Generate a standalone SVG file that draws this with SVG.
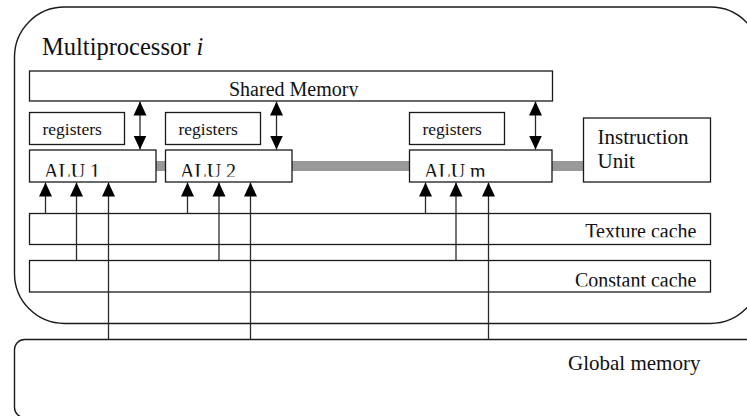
<svg xmlns="http://www.w3.org/2000/svg" width="747" height="416" viewBox="0 0 747 416">
  <style>
    .box { fill: none; stroke: #1a1a1a; stroke-width: 1.3; }
    .frame { fill: none; stroke: #1a1a1a; stroke-width: 1.4; }
    .lbl { font-family: "Liberation Serif", "Times New Roman", serif; fill: #111; }
    .big { font-size: 20px; }
    .reg { font-size: 17.5px; }
    .wire { stroke: #2a2a2a; stroke-width: 1.3; fill: none; }
    .bus { stroke: #999999; stroke-width: 10; fill: none; }
  </style>
  <defs>
    <marker id="head" markerUnits="userSpaceOnUse" markerWidth="14" markerHeight="14" viewBox="0 0 14 14" refX="14" refY="7" orient="auto-start-reverse">
      <path d="M0,0.5 L14,7 L0,13.5 Z" fill="#000"/>
    </marker>
    <clipPath id="clipShared"><rect x="29" y="71" width="523" height="25.5"/></clipPath>
    <clipPath id="clipAlu"><rect x="0" y="150" width="747" height="26.8"/></clipPath>
    <clipPath id="clipTex"><rect x="29" y="213" width="682" height="24.2"/></clipPath>
    <clipPath id="clipConst"><rect x="29" y="260" width="682" height="26.5"/></clipPath>
  </defs>

  <!-- multiprocessor frame -->
  <g id="multiprocessor">
    <rect class="frame" x="14.5" y="7" width="746" height="316.5" rx="50" ry="50"/>
    <text class="lbl" x="42" y="55" font-size="24.5">Multiprocessor <tspan font-style="italic">i</tspan></text>
  </g>

  <!-- global memory -->
  <g id="global-memory">
    <rect class="frame" x="14.5" y="339.5" width="760" height="78" rx="10" ry="10"/>
    <text class="lbl" x="568" y="370" font-size="21">Global memory</text>
  </g>

  <g id="shared-memory">
    <rect class="box" x="29.5" y="71" width="523" height="30"/>
    <text class="lbl big" x="229" y="96" clip-path="url(#clipShared)">Shared Memory</text>
  </g>

  <g id="registers-1">
    <rect class="box" x="29.5" y="112.5" width="95" height="32"/>
    <text class="lbl reg" x="42.5" y="135">registers</text>
  </g>
  <g id="registers-2">
    <rect class="box" x="165.5" y="112.5" width="95" height="32"/>
    <text class="lbl reg" x="178.5" y="135">registers</text>
  </g>
  <g id="registers-m">
    <rect class="box" x="409.5" y="112.5" width="95" height="32"/>
    <text class="lbl reg" x="422.5" y="135">registers</text>
  </g>

  <!-- ALU bus to the instruction unit, drawn beneath the ALU boxes -->
  <g id="bus">
    <line class="bus" x1="156" y1="166" x2="166" y2="166"/>
    <line class="bus" x1="292" y1="166" x2="409" y2="166"/>
    <line class="bus" x1="552" y1="166" x2="583" y2="166"/>
  </g>

  <g id="alu-1">
    <rect class="box" x="29.5" y="150" width="126.5" height="32" fill="#fff"/>
    <text class="lbl big" x="44" y="178" clip-path="url(#clipAlu)">ALU 1</text>
  </g>
  <g id="alu-2">
    <rect class="box" x="165.5" y="150" width="126.5" height="32" fill="#fff"/>
    <text class="lbl big" x="180" y="178" clip-path="url(#clipAlu)">ALU 2</text>
  </g>
  <g id="alu-m">
    <rect class="box" x="409.5" y="150" width="142.5" height="32" fill="#fff"/>
    <text class="lbl big" x="424" y="178" clip-path="url(#clipAlu)">ALU m</text>
  </g>

  <g id="instruction-unit">
    <rect class="box" x="583.5" y="118" width="127" height="64" fill="#fff"/>
    <text class="lbl" x="597.5" y="144" font-size="21">Instruction</text>
    <text class="lbl" x="597.5" y="168" font-size="21">Unit</text>
  </g>

  <g id="texture-cache">
    <rect class="box" x="29.5" y="213.5" width="681" height="31"/>
    <text class="lbl big" x="696.5" y="238" text-anchor="end" clip-path="url(#clipTex)">Texture cache</text>
  </g>

  <g id="constant-cache">
    <rect class="box" x="29.5" y="260.5" width="681" height="31.5"/>
    <text class="lbl big" x="696.5" y="287" text-anchor="end" clip-path="url(#clipConst)">Constant cache</text>
  </g>

  <g id="connectors">
    <!-- shared memory <-> ALU -->
    <line class="wire" x1="140" y1="101.5" x2="140" y2="149.5" marker-start="url(#head)" marker-end="url(#head)"/>
    <line class="wire" x1="276.5" y1="101.5" x2="276.5" y2="149.5" marker-start="url(#head)" marker-end="url(#head)"/>
    <line class="wire" x1="535.5" y1="101.5" x2="535.5" y2="149.5" marker-start="url(#head)" marker-end="url(#head)"/>

    <!-- texture cache -> ALU -->
    <line class="wire" x1="45.5" y1="213.5" x2="45.5" y2="182.5" marker-end="url(#head)"/>
    <line class="wire" x1="187.5" y1="213.5" x2="187.5" y2="182.5" marker-end="url(#head)"/>
    <line class="wire" x1="425.5" y1="213.5" x2="425.5" y2="182.5" marker-end="url(#head)"/>

    <!-- constant cache -> ALU -->
    <line class="wire" x1="76.5" y1="260.5" x2="76.5" y2="182.5" marker-end="url(#head)"/>
    <line class="wire" x1="219" y1="260.5" x2="219" y2="182.5" marker-end="url(#head)"/>
    <line class="wire" x1="456" y1="260.5" x2="456" y2="182.5" marker-end="url(#head)"/>

    <!-- global memory -> ALU -->
    <line class="wire" x1="108.5" y1="339.5" x2="108.5" y2="182.5" marker-end="url(#head)"/>
    <line class="wire" x1="250.5" y1="339.5" x2="250.5" y2="182.5" marker-end="url(#head)"/>
    <line class="wire" x1="488.5" y1="339.5" x2="488.5" y2="182.5" marker-end="url(#head)"/>
  </g>
</svg>
